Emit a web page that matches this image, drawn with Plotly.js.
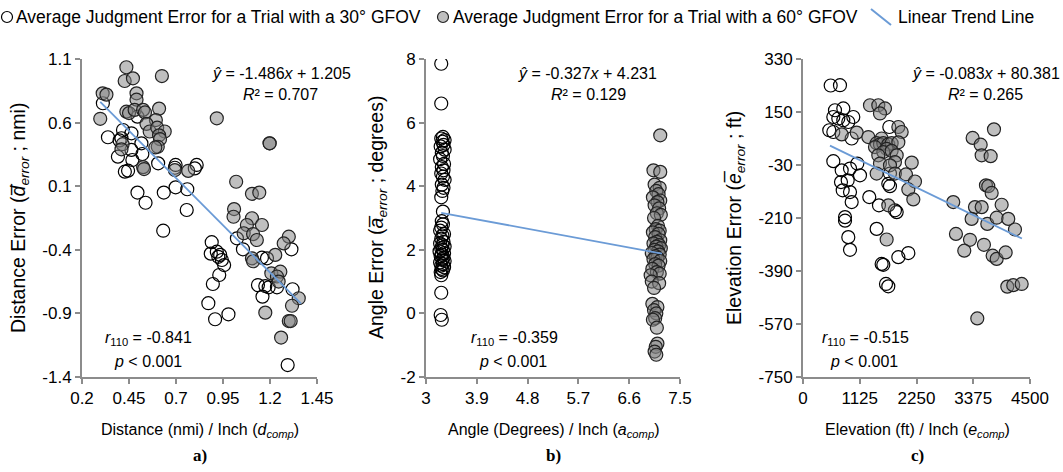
<!DOCTYPE html>
<html>
<head>
<meta charset="utf-8">
<script src="https://cdn.plot.ly/plotly-3.0.1.min.js"></script>
<style>html,body{margin:0;padding:0;background:#fff;}#chart{width:1063px;height:472px;}</style>
</head>
<body>
<div id="chart"></div>
<script>
// ---------- Data ----------
// Panel a: Distance
const a30x = [0.311,0.338,0.391,0.410,0.400,0.418,0.463,0.463,0.468,0.428,0.445,0.516,0.521,0.495,0.605,0.698,0.694,0.810,0.800,0.495,0.538,0.635,0.698,0.760,0.757,0.632,0.890,1.024,1.314,1.056,0.885,0.917,0.925,0.935,0.944,0.956,1.157,1.184,0.930,1.136,1.175,1.193,1.237,0.896,1.320,1.160,0.872,0.908,0.979,1.294];
const a30y = [0.752,0.485,0.332,0.477,0.460,0.542,0.516,0.385,0.306,0.214,0.222,0.437,0.353,0.647,0.280,0.267,0.245,0.267,0.240,0.050,-0.030,0.050,0.091,0.076,-0.087,-0.250,-0.340,-0.310,-0.396,-0.396,-0.430,-0.415,-0.455,-0.440,-0.480,-0.520,-0.462,-0.467,-0.598,-0.677,-0.685,-0.695,-0.695,-0.669,-0.710,-0.768,-0.820,-0.946,-0.907,-1.306];
const a60x = [0.436,0.427,0.471,0.625,0.310,0.330,0.490,0.490,0.297,0.436,0.450,0.480,0.525,0.535,0.610,0.593,0.543,0.560,0.600,0.640,0.610,0.615,0.603,0.590,0.416,0.410,0.525,0.530,0.694,0.765,0.917,1.198,1.198,1.020,1.104,1.143,1.009,1.006,1.104,1.077,1.157,1.060,1.110,1.130,1.300,1.273,1.104,1.110,1.228,1.207,1.255,1.237,1.246,1.353,1.317,1.175,1.300,1.310,1.259];
const a60y = [1.035,0.927,0.948,0.966,0.830,0.820,0.830,0.780,0.630,0.686,0.675,0.700,0.700,0.680,0.710,0.620,0.590,0.530,0.560,0.530,0.500,0.470,0.410,0.405,0.430,0.390,0.250,0.235,0.227,0.220,0.634,0.437,0.437,0.135,0.040,0.050,-0.080,-0.140,-0.152,-0.205,-0.205,-0.270,-0.276,-0.323,-0.297,-0.350,-0.467,-0.490,-0.440,-0.585,-0.572,-0.610,-0.650,-0.781,-0.840,-0.894,-0.960,-0.960,-1.090];
const aTrendX = [0.297, 1.365];
const aCoef = [-1.486, 1.205];

// Panel b: Angle
const b30x = [3.27,3.27,3.30,3.27,3.33,3.29,3.31,3.26,3.33,3.28,3.30,3.25,3.32,3.28,3.31,3.27,3.30,3.33,3.28,3.31,3.29,3.27,3.30,3.28,3.30,3.27,3.25,3.32,3.29,3.27,3.31,3.25,3.29,3.33,3.27,3.30,3.24,3.32,3.28,3.26,3.31,3.29,3.33,3.25,3.30,3.27,3.32,3.28,3.30,3.26,3.27,3.27,3.26,3.28];
const b30y = [7.85,6.60,5.55,5.50,5.45,5.40,5.30,5.25,5.15,5.05,4.95,4.85,4.70,4.60,4.50,4.40,4.30,4.20,4.05,3.95,3.85,3.65,3.20,2.90,2.80,2.70,2.60,2.50,2.45,2.35,2.25,2.20,2.15,2.10,2.05,2.00,1.95,1.90,1.85,1.80,1.75,1.70,1.65,1.60,1.55,1.50,1.45,1.40,1.35,1.30,1.20,0.65,-0.05,-0.20];
const b60x = [7.15,7.03,7.15,7.05,7.14,7.08,7.12,7.02,7.15,7.10,7.05,7.13,7.09,7.16,7.04,7.11,7.07,7.14,7.02,7.12,7.06,7.15,7.09,7.03,7.13,7.08,7.16,7.05,7.11,7.00,7.14,7.07,7.10,7.03,7.15,7.06,7.12,7.01,7.09,7.14,6.98,7.00,7.13,7.04,7.01,7.10,7.04,7.08,7.06,7.02,7.09,7.10,7.07,7.05,7.08];
const b60y = [5.60,4.50,4.45,4.05,3.95,3.85,3.75,3.65,3.55,3.50,3.40,3.30,3.15,3.10,3.00,2.75,2.65,2.60,2.55,2.50,2.40,2.30,2.25,2.20,2.15,2.10,2.05,2.00,1.95,1.90,1.85,1.80,1.75,1.70,1.65,1.55,1.50,1.40,1.30,1.25,1.20,1.00,0.95,0.80,0.30,0.20,0.10,0.00,-0.15,-0.20,-0.45,-0.95,-1.05,-1.20,-1.30];
const bTrendX = [3.27, 7.18];
const bCoef = [-0.327, 4.231];

// Panel c: Elevation
const c30x = [549,733,634,799,601,700,799,898,997,521,601,965,601,767,932,1077,1130,753,886,787,932,965,833,833,898,932,1314,1506,1711,1691,1724,1823,1857,1460,1559,1592,1645,1691,1890,2088,1724];
const c30y = [240,241,156,162,133,128,122,116,133,88,82,60,-17,-48,-42,-25,-65,-88,-82,-116,-122,-156,-207,-219,-275,-318,-139,-167,99,-94,-102,-184,-190,-247,-366,-369,-434,-442,-343,-329,-59];
const c60x = [1328,1493,1625,1526,1890,1956,1064,767,1295,1559,1460,1526,1592,1691,1757,1890,1427,1658,1592,1757,1493,1857,1526,1823,1724,2155,1460,1823,2041,2220,2088,2187,1691,1658,3786,3363,3522,3542,3720,3627,3673,3740,2979,3409,3542,3938,3343,3654,3839,4069,4202,3032,3310,3197,3587,3760,3839,4017,4050,4168,4335,3455];
const c60y = [173,173,162,145,99,82,80,74,65,60,44,40,44,40,44,47,31,25,14,18,3,3,-25,-20,-31,-22,-59,-59,-62,-86,-113,-147,-167,-283,91,62,39,3,0,-99,-102,-125,-156,-173,-173,-165,-213,-230,-209,-213,-249,-264,-284,-321,-301,-338,-349,-327,-443,-438,-434,-551];
const cTrendX = [535, 4340];
const cCoef = [-0.083, 80.381];

// Tick values / labels
const aXticks = [0.2,0.45,0.7,0.95,1.2,1.45];
const aXlabels = ['0.2','0.45','0.7','0.95','1.2','1.45'];
const aYticks = [-1.4,-0.9,-0.4,0.1,0.6,1.1];
const aYlabels = ['-1.4','-0.9','-0.4','0.1','0.6','1.1'];
const bXticks = [3,3.9,4.8,5.7,6.6,7.5];
const bXlabels = ['3','3.9','4.8','5.7','6.6','7.5'];
const bYticks = [-2,0,2,4,6,8];
const bYlabels = ['-2','0','2','4','6','8'];
const cXticks = [0,1125,2250,3375,4500];
const cXlabels = ['0','1125','2250','3375','4500'];
const cYticks = [-750,-570,-390,-210,-30,150,330];
const cYlabels = ['-750','-570','-390','-210','-30','150','330'];

const seriesNames = ['Average Judgment Error for a Trial with a 30° GFOV','Average Judgment Error for a Trial with a 60° GFOV','Linear Trend Line'];

// ---------- Styling / layout ----------
const W = 1063, H = 472;
const FONT = 'Liberation Sans, Arial, sans-serif';
const SERIF = 'Liberation Serif, Times New Roman, serif';
const AXC = '#8c8c8c';
const BLUE = '#6b9bd6';
const px = v => v / W;
const py = v => (H - v) / H;

const openMarker = {size:13, color:'rgba(255,255,255,0)', line:{color:'#000', width:1.2}};
const grayMarker = {size:13, color:'rgba(128,128,128,0.5)', line:{color:'#222', width:1.2}};

function trend(xs, coef) { return xs.map(x => coef[0]*x + coef[1]); }

const traces = [];
[[a30x,a30y,a60x,a60y,aTrendX,aCoef,'x','y'],
 [b30x,b30y,b60x,b60y,bTrendX,bCoef,'x2','y2'],
 [c30x,c30y,c60x,c60y,cTrendX,cCoef,'x3','y3']].forEach(p => {
  traces.push({type:'scatter', mode:'markers', x:p[0], y:p[1], xaxis:p[6], yaxis:p[7], marker:openMarker, name:seriesNames[0], hoverinfo:'x+y'});
  traces.push({type:'scatter', mode:'markers', x:p[2], y:p[3], xaxis:p[6], yaxis:p[7], marker:grayMarker, name:seriesNames[1], hoverinfo:'x+y'});
  traces.push({type:'scatter', mode:'lines', x:p[4], y:trend(p[4], p[5]), xaxis:p[6], yaxis:p[7], line:{color:BLUE, width:1.8}, name:seriesNames[2], hoverinfo:'skip'});
});

function axis(range, vals, labels, domain, anchor) {
  return {domain:domain, range:range, tickmode:'array', tickvals:vals, ticktext:labels,
    showline:true, linecolor:AXC, linewidth:2, ticks:'outside', ticklen:5, tickwidth:2, tickcolor:AXC,
    showgrid:false, zeroline:false, anchor:anchor, automargin:false, fixedrange:true,
    tickfont:{family:FONT, size:17, color:'#000'}};
}
const yDom = [py(377), py(59)];

const ann = [];
function txt(x, y, text, opts) {
  ann.push(Object.assign({xref:'paper', yref:'paper', x:px(x), y:py(y), text:text, showarrow:false,
    xanchor:'center', yanchor:'middle', font:{family:FONT, size:16, color:'#000'}}, opts||{}));
}
const LEGF = {family:FONT, size:17.5, color:'#000'};
// Legend texts
txt(14, 17, seriesNames[0], {xanchor:'left', font:LEGF});
txt(451, 17, seriesNames[1], {xanchor:'left', font:LEGF});
txt(896, 17, seriesNames[2], {xanchor:'left', font:LEGF});
// Equations
txt(281, 73, '<i>ŷ</i> = -1.486<i>x</i> + 1.205');
txt(280, 94, '<i>R</i>² = 0.707');
txt(148, 338, '<i>r</i><sub>110</sub> = -0.841');
txt(148, 361, '<i>p</i> &lt; 0.001');
txt(587, 73, '<i>ŷ</i> = -0.327<i>x</i> + 4.231');
txt(588, 94, '<i>R</i>² = 0.129');
txt(514, 338, '<i>r</i><sub>110</sub> = -0.359');
txt(513, 361, '<i>p</i> &lt; 0.001');
txt(986, 73, '<i>ŷ</i> = -0.083<i>x</i> + 80.381');
txt(985, 94, '<i>R</i>² = 0.265');
txt(865, 338, '<i>r</i><sub>110</sub> = -0.515');
txt(864, 361, '<i>p</i> &lt; 0.001');
// Axis titles
txt(200, 430, 'Distance (nmi) / Inch (<i>d</i><sub><i>comp</i></sub>)');
txt(553, 430, 'Angle (Degrees) / Inch (<i>a</i><sub><i>comp</i></sub>)');
txt(917, 430, 'Elevation (ft) / Inch (<i>e</i><sub><i>comp</i></sub>)');
const YTF = {family:FONT, size:19.5, color:'#000'};
txt(19, 218, 'Distance Error (<i>d\u0305</i><sub><i>error</i></sub> ; nmi)', {textangle:-90, font:YTF});
txt(377, 218, 'Angle Error (<i>a\u0305</i><sub><i>error</i></sub> ; degrees)', {textangle:-90, font:YTF});
txt(735, 218, 'Elevation Error (<i>e\u0305</i><sub><i>error</i></sub> ; ft)', {textangle:-90, font:YTF});
// Panel labels
txt(200, 455, '<b>a)</b>', {font:{family:SERIF, size:17, color:'#000'}});
txt(553, 455, '<b>b)</b>', {font:{family:SERIF, size:17, color:'#000'}});
txt(917, 455, '<b>c)</b>', {font:{family:SERIF, size:17, color:'#000'}});

const shapes = [
  {type:'circle', xref:'paper', yref:'paper', xsizemode:'pixel', ysizemode:'pixel', xanchor:px(7), yanchor:py(17), x0:-5.5, x1:5.5, y0:-5.5, y1:5.5, line:{color:'#000', width:1.2}, fillcolor:'rgba(255,255,255,0)'},
  {type:'circle', xref:'paper', yref:'paper', xsizemode:'pixel', ysizemode:'pixel', xanchor:px(443), yanchor:py(17), x0:-5.5, x1:5.5, y0:-5.5, y1:5.5, line:{color:'#222', width:1.2}, fillcolor:'rgba(128,128,128,0.5)'},
  {type:'line', xref:'paper', yref:'paper', x0:px(871), y0:py(9), x1:px(891), y1:py(25), line:{color:BLUE, width:2}}
];

const layout = {
  width:W, height:H, margin:{l:0, r:0, t:0, b:0}, paper_bgcolor:'#fff', plot_bgcolor:'rgba(0,0,0,0)',
  showlegend:false, font:{family:FONT, size:16, color:'#000'},
  xaxis: axis([0.2,1.45], aXticks, aXlabels, [px(82), px(317)], 'y'),
  yaxis: axis([-1.4,1.1], aYticks, aYlabels, yDom, 'x'),
  xaxis2: axis([3,7.5], bXticks, bXlabels, [px(426), px(680)], 'y2'),
  yaxis2: axis([-2,8], bYticks, bYlabels, yDom, 'x2'),
  xaxis3: axis([0,4500], cXticks, cXlabels, [px(803), px(1030)], 'y3'),
  yaxis3: axis([-750,330], cYticks, cYlabels, yDom, 'x3'),
  annotations: ann, shapes: shapes
};

Plotly.newPlot('chart', traces, layout, {displayModeBar:false, staticPlot:true});
</script>
</body>
</html>
